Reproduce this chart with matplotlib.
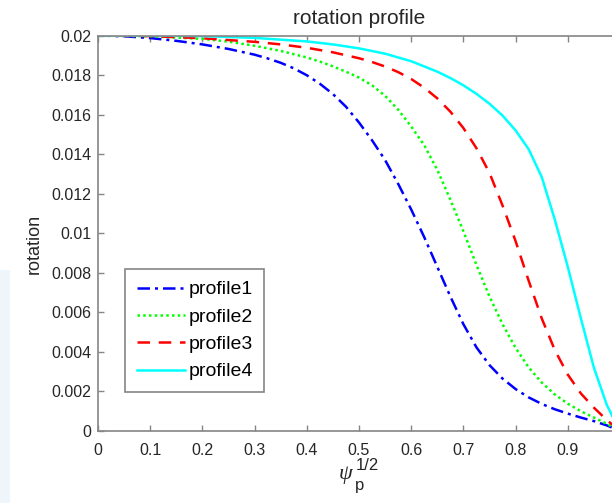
import matplotlib
matplotlib.use('Agg')
import matplotlib.pyplot as plt
from matplotlib.patches import Rectangle

plt.rcParams['font.family'] = ['Liberation Sans', 'DejaVu Sans']

# values
x1 = [0, 0.05, 0.1, 0.15, 0.2, 0.25, 0.3, 0.325, 0.35, 0.375, 0.4, 0.425, 0.45, 0.475, 0.5, 0.525,
      0.55, 0.575, 0.6, 0.625, 0.65, 0.675, 0.7, 0.725, 0.75, 0.775, 0.8, 0.825, 0.85, 0.875, 0.9,
      0.925, 0.95, 0.975, 1.0]
profile1 = [0.0200, 0.01996, 0.01987, 0.01973, 0.01955, 0.01932, 0.01903, 0.01884, 0.01862, 0.01834,
            0.01799, 0.01756, 0.01704, 0.01640, 0.01560, 0.0147, 0.0137, 0.0125, 0.0112, 0.0098,
            0.0083, 0.0068, 0.0054, 0.00423, 0.00333, 0.00265, 0.00212, 0.00170, 0.00137, 0.00110,
            0.00088, 0.00068, 0.0005, 0.00028, 0.0]

x2 = [0, 0.1, 0.2, 0.25, 0.3, 0.35, 0.4, 0.425, 0.45, 0.475, 0.5, 0.525, 0.55, 0.575, 0.6, 0.625,
      0.65, 0.675, 0.7, 0.725, 0.75, 0.775, 0.8, 0.825, 0.85, 0.875, 0.9, 0.925, 0.95, 0.975, 1.0]
profile2 = [0.0200, 0.01996, 0.01983, 0.01969, 0.01948, 0.01922, 0.01889, 0.01868, 0.01844, 0.01817,
            0.01787, 0.01748, 0.01695, 0.01625, 0.0154, 0.01445, 0.0132, 0.0117, 0.0101, 0.0084,
            0.0068, 0.0054, 0.0042, 0.00322, 0.00245, 0.00185, 0.00138, 0.0010, 0.00068, 0.00036, 0.0]

x3 = [0, 0.1, 0.2, 0.3, 0.35, 0.4, 0.45, 0.5, 0.525, 0.55, 0.575, 0.6, 0.625, 0.65, 0.675, 0.7,
      0.725, 0.75, 0.775, 0.8, 0.825, 0.85, 0.875, 0.9, 0.925, 0.95, 0.975, 1.0]
profile3 = [0.0200, 0.01997, 0.01986, 0.01968, 0.01955, 0.01938, 0.01915, 0.01885, 0.01866, 0.01843,
            0.01815, 0.0178, 0.01736, 0.01682, 0.01615, 0.01532, 0.0143, 0.01305, 0.0114, 0.0096,
            0.0076, 0.0057, 0.0041, 0.00285, 0.0019, 0.00118, 0.00055, 0.0]

x4 = [0, 0.1, 0.2, 0.3, 0.4, 0.45, 0.5, 0.55, 0.6, 0.65, 0.675, 0.7, 0.725, 0.75, 0.775, 0.8,
      0.825, 0.85, 0.875, 0.9, 0.925, 0.95, 0.975, 1.0]
profile4 = [0.0200, 0.0200, 0.01997, 0.01988, 0.0197, 0.01955, 0.01935, 0.01908, 0.0187, 0.01817,
            0.01785, 0.01748, 0.01705, 0.01655, 0.01595, 0.0152, 0.01425, 0.01285, 0.0107, 0.0083,
            0.0057, 0.0032, 0.0013, 0.0]

names = ['profile1', 'profile2', 'profile3', 'profile4']
ytick_vals = [0, 0.002, 0.004, 0.006, 0.008, 0.01, 0.012, 0.014, 0.016, 0.018, 0.02]
ytick_labels = ['0', '0.002', '0.004', '0.006', '0.008', '0.01', '0.012', '0.014', '0.016', '0.018', '0.02']
xtick_vals = [0, 0.1, 0.2, 0.3, 0.4, 0.5, 0.6, 0.7, 0.8, 0.9, 1]
xtick_labels = ['0', '0.1', '0.2', '0.3', '0.4', '0.5', '0.6', '0.7', '0.8', '0.9', '']

fig = plt.figure(figsize=(6.12, 5.03), dpi=100)
# faint blue band on the left edge of the screenshot
fig.patches.append(Rectangle((0, 0), 10 / 612, 233 / 503, transform=fig.transFigure,
                             facecolor='#eef5fb', edgecolor='none', zorder=0))

# axes run a bit past the right edge (the screenshot is cropped)
ax = fig.add_axes([98 / 612, 72 / 503, 522 / 612, 395.5 / 503])

ax.plot(x1, profile1, color='#0000ff', linestyle=(0, (5, 2, 1.2, 2)), lw=1.8, label=names[0])
ax.plot(x2, profile2, color='#00ff00', linestyle=(0, (1, 1.3)), lw=1.8, label=names[1])
ax.plot(x3, profile3, color='#ff0000', linestyle=(0, (5, 3.5)), lw=1.8, label=names[2])
ax.plot(x4, profile4, color='#00ffff', linestyle='-', lw=1.8, label=names[3])

ax.set_xlim(0, 1)
ax.set_ylim(0, 0.02)
ax.set_xticks(xtick_vals)
ax.set_xticklabels(xtick_labels)
ax.set_yticks(ytick_vals)
ax.set_yticklabels(ytick_labels)

gray = '#858585'
for s in ax.spines.values():
    s.set_color(gray)
    s.set_linewidth(1.2)
ax.tick_params(direction='in', top=True, right=True, length=4, width=1, color=gray,
               labelsize=11.5, labelcolor='#262626', pad=5)
ax.tick_params(axis='x', pad=8.5)

ax.set_title('rotation profile', fontsize=15, color='#262626', pad=8)
ax.set_ylabel('rotation', fontsize=13, color='#262626')
ax.yaxis.set_label_coords(-0.105, 0.473)

# x label psi_p^(1/2), placed in pieces like the MATLAB tex output
tc = '#262626'
fig.text(346 / 612, 1 - 475 / 503, '\u03c8', fontsize=16, family='Liberation Serif',
         style='italic', color=tc, ha='center', va='center')
fig.text(356 / 612, 1 - 466 / 503, '1/2', fontsize=12, color=tc, ha='left', va='center')
fig.text(355 / 612, 1 - 490 / 503, 'p', fontsize=12, color=tc, ha='left', va='baseline')

leg = ax.legend(loc='lower left', bbox_to_anchor=(27 / 522, 39 / 395.5), fontsize=14,
                handlelength=2.5, handletextpad=0.15, borderpad=0.6, labelspacing=0.5,
                borderaxespad=0, fancybox=False, framealpha=1)
leg.get_frame().set_edgecolor(gray)
leg.get_frame().set_linewidth(1.2)

fig.savefig('out.png', dpi=100)
